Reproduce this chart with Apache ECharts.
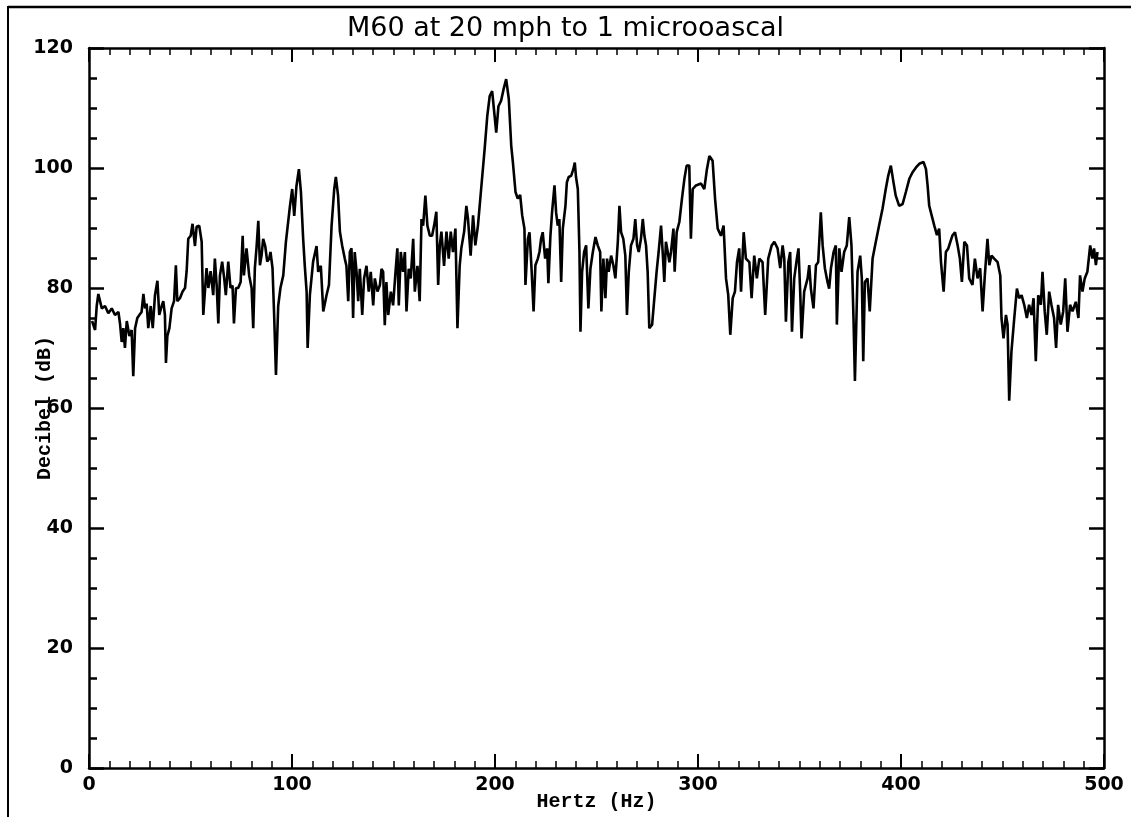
<!DOCTYPE html>
<html><head><meta charset="utf-8">
<script src="https://cdn.jsdelivr.net/npm/echarts@6/dist/echarts.min.js"></script>
<style>html,body{margin:0;padding:0;background:#fff}#c{width:1131px;height:817px}</style>
</head><body><div id="c"></div><script>
const titleText = 'M60 at 20 mph to 1 microoascal';
const xName = 'Hertz (Hz)';
const yName = 'Decibel (dB)';
const xTickValues = [0, 100, 200, 300, 400, 500];
const yTickValues = [0, 20, 40, 60, 80, 100, 120];

// frequency (Hz)
const hz = [
1.5,3.0,3.8,4.6,6.3,7.9,9.5,11.2,12.8,14.5,15.3,16.1,16.9,17.7,18.6,19.9,21.0,21.8,22.7,23.8,
24.8,25.9,26.8,27.6,28.4,29.2,30.4,31.4,32.5,33.7,34.6,35.8,36.6,37.4,37.9,38.6,39.6,40.7,41.9,42.8,
43.5,44.8,46.1,47.3,48.1,48.9,50.1,51.0,52.2,53.0,54.3,55.5,56.3,57.1,57.9,58.8,59.9,61.2,62.0,62.9,
63.7,64.5,65.6,66.6,67.4,68.6,69.7,70.7,71.4,72.4,73.5,74.7,75.7,76.3,77.6,78.9,80.1,80.9,81.7,82.5,
83.4,84.2,85.0,85.8,86.8,87.8,88.8,89.4,90.4,91.2,92.1,93.2,94.3,95.7,97.0,99.0,100.1,101.1,102.2,103.4,
104.4,105.5,106.3,107.2,107.7,108.8,110.4,112.1,112.9,114.2,115.4,117.0,118.2,119.5,120.8,121.6,122.7,123.6,124.7,126.0,
126.8,127.7,128.5,129.3,130.1,130.9,131.8,132.6,133.4,134.6,135.5,136.7,137.8,138.8,140.0,140.8,142.1,143.3,144.1,144.9,
145.7,146.5,147.4,148.7,149.8,151.0,151.9,152.6,153.6,154.7,155.6,156.4,157.5,158.5,159.7,160.5,161.8,162.9,163.8,164.6,
165.7,166.7,167.9,169.0,170.0,171.1,172.0,172.8,173.6,174.9,176.1,177.2,178.2,179.3,180.5,181.5,182.6,183.4,184.8,185.9,
186.7,188.0,189.2,190.3,191.6,193.3,194.9,196.2,197.4,198.6,199.8,200.6,201.7,203.0,204.2,205.5,206.8,208.0,208.8,210.1,
211.2,212.4,213.4,214.5,215.0,216.2,217.0,218.0,219.0,219.9,221.1,221.9,222.7,223.5,224.7,225.7,226.3,227.3,228.1,229.3,
230.1,230.9,231.7,232.6,233.4,234.7,235.4,236.3,237.5,238.6,239.3,239.9,240.8,241.6,242.1,242.9,243.9,244.9,246.0,247.0,
248.2,249.5,250.6,251.8,252.4,253.4,254.4,255.2,256.0,257.2,258.3,259.3,260.5,261.3,262.1,263.2,264.2,265.0,265.9,267.0,
268.2,269.1,270.0,270.8,271.9,272.8,273.6,274.4,275.2,276.0,277.4,278.5,279.6,280.6,281.8,282.6,283.4,284.2,285.1,285.9,
286.7,287.9,288.5,289.5,290.8,292.1,293.3,294.4,295.7,296.5,297.4,299.0,301.5,303.1,304.4,305.6,307.2,308.4,309.7,311.3,
312.6,313.8,314.9,315.9,317.1,318.2,319.2,320.3,321.2,322.5,323.6,325.3,326.4,327.7,329.0,330.2,331.8,333.1,334.6,336.3,
337.6,339.2,340.5,341.7,342.5,343.3,344.5,345.4,346.3,347.4,348.7,349.5,350.4,351.0,352.3,354.0,354.8,355.6,356.9,358.1,
359.2,360.5,361.4,362.5,363.8,364.6,365.5,366.8,367.9,368.4,369.6,370.7,372.0,373.3,374.5,375.6,376.6,377.3,378.6,379.9,
380.7,381.4,382.2,383.5,384.6,386.0,387.6,389.2,390.9,392.5,393.7,395.0,396.3,397.4,399.1,400.8,402.4,404.1,405.7,407.4,
409.0,411.1,412.3,413.1,413.9,415.1,416.4,417.7,418.8,419.7,421.0,422.1,423.3,424.3,425.4,426.6,427.9,429.0,430.0,431.2,
432.5,433.6,435.2,436.4,437.7,439.0,440.2,441.3,442.6,443.5,444.6,445.9,447.6,448.9,449.5,450.5,451.7,452.5,453.3,454.4,
455.8,457.1,458.2,459.4,460.7,462.0,463.1,464.3,465.3,466.4,467.6,468.9,469.7,470.8,471.8,473.0,474.1,475.4,476.4,477.4,
478.7,479.9,480.9,482.0,483.3,484.5,486.1,487.4,488.2,489.4,490.5,491.8,493.2,494.3,495.1,496.0,496.8
];
// level (dB)
const db = [
74.5,73,77,79,76.6,77,75.8,76.6,75.5,76,74,71,73.3,70,74.5,72,73,65.3,73.3,75,
75.5,76,79,76.6,77.4,73.3,77,73.3,78.8,81.2,75.5,77,77.8,75.5,67.5,72,73.3,76.6,77.8,83.8,
77.8,78.3,79.4,80,82.8,88.2,88.7,90.7,87,90.2,90.4,87.7,75.5,79.4,83.3,80,82.8,78.8,84.9,80.4,
74.1,82.1,84.4,81.6,78.8,84.4,80,80.4,74.1,80,80,81,88.7,82.1,86.6,82.1,80,73.3,83.3,86.6,
91.2,83.8,85.4,88.2,87,84.4,84.9,86,83.3,75.5,65.5,77,80,82.1,87.7,93.7,96.5,92,97,99.8,
96,88.2,83.7,79.4,70,78.8,84.4,87,82.7,83.7,76.1,78.8,80.5,90.4,96.5,98.5,95.4,89.4,87.1,84.9,
83.7,77.8,86,86.6,75,86,82.7,77.8,83.2,75.5,81.6,83.7,79.4,82.7,77.1,81.6,79.4,80.5,83.2,82.7,
73.8,81,75.5,79.4,77.1,82.7,86.6,77.1,86,82.7,86,76.1,83.2,81.6,88.2,79.4,83.7,77.8,91.5,90.4,
95.4,90.4,88.7,88.7,90.4,92.7,80.5,87.1,89.4,83.7,89.4,84.9,89.4,86,89.9,73.3,83.7,86.6,89.4,93.7,
91.5,85.4,92.1,87.1,90.4,97,103.2,108.7,112,112.8,108.7,105.9,110.3,111.2,113.1,114.8,111.5,103.7,101,96,
94.9,95.5,92.1,89.9,80.5,88.2,89.3,83.2,76.1,83.8,84.9,86,88.2,89.3,84.9,86.6,80.8,88.7,92.6,97.1,
92.6,90.4,91.5,81,89.9,93.7,97.6,98.5,98.7,99.8,100.9,98.5,96.5,86,72.7,82.7,86,87.1,76.6,83.2,
86,88.5,87.1,86,76.1,84.9,78.3,84.9,82.7,85.4,83.8,81.6,87.7,93.7,89.3,88.2,85.4,75.5,82.7,87.1,
88.2,91.5,87.1,86,88.2,91.5,88.7,87.1,82.7,73.3,73.9,78.3,82.7,86,90.4,86,81,87.7,86,84.3,
86,89.9,82.7,89.3,91,94.9,98.2,100.4,100.4,88.2,96.5,97.1,97.4,96.5,99.8,102,101.2,94.9,89.9,88.7,
90.4,81.6,78.8,72.2,78.3,79.4,84.3,86.6,79.4,89.3,84.9,84.3,78.3,85.4,81.6,84.9,84.3,75.5,84.9,87.1,
87.7,86.6,83.3,87.1,84.9,74.4,84.3,86,72.7,81.6,84.9,86.6,78.8,71.6,79.4,81.6,83.8,79.9,76.6,83.8,
84.3,92.6,87.1,83.3,81,79.9,83.3,86,87.1,73.9,86.6,82.7,86,87.1,91.8,87.1,75,64.5,82.7,85.4,
81.6,67.8,81,81.6,76.1,84.9,87.7,90.4,93.2,96.5,98.7,100.4,97.6,95.4,93.7,94,96,98.2,99.3,100.1,
100.7,101,99.8,97.1,93.7,92.1,90.4,88.8,89.9,84.3,79.4,86,86.6,87.7,88.8,89.3,87.1,84.9,81,87.7,
87.1,81.6,80.5,84.9,81.6,83.3,76.1,82.1,88.2,83.8,85.4,84.9,84.3,82.1,75,71.6,75.5,73.9,61.2,69.4,
75,79.9,78.3,78.8,77.2,75,77.2,75.5,78.3,67.8,78.8,77.2,82.7,76.1,72.2,79.4,77.2,75,70,77.2,
73.9,76.1,81.6,72.7,77.2,76.1,77.7,75,82.1,79.4,81.6,82.7,87.1,84.9,86.6,83.8,86
];

const points = hz.map((h, i) => [h, db[i]]);
const labelFont = { fontFamily: 'DejaVu Sans', fontWeight: 'bold', fontSize: 19, color: '#000' };
const nameFont = { fontFamily: 'Liberation Mono', fontWeight: 'bold', fontSize: 20, color: '#000' };
const axisLine = { show: true, onZero: false, lineStyle: { color: '#000', width: 2.5 } };

const chart = echarts.init(document.getElementById('c'), null, { renderer: 'canvas' });
chart.setOption({
  animation: false,
  backgroundColor: '#fff',
  title: {
    text: titleText, left: 'center', top: 10,
    textStyle: { fontFamily: 'DejaVu Sans', fontWeight: 'normal', fontSize: 27, color: '#000' }
  },
  grid: { left: 89, right: 27, top: 48, bottom: 45, containLabel: false },
  xAxis: [{
    type: 'value', min: 0, max: 500, interval: 100, position: 'bottom',
    name: xName, nameLocation: 'middle', nameGap: 24, nameMoveOverlap: false, nameTextStyle: nameFont,
    axisLine: axisLine,
    axisTick: { show: true, inside: true, length: 14, lineStyle: { color: '#000', width: 2 } },
    minorTick: { show: true, splitNumber: 10, length: 7, lineStyle: { color: '#000', width: 1.5 } },
    axisLabel: Object.assign({ margin: 8, formatter: v => xTickValues.includes(v) ? String(v) : '' }, labelFont),
    splitLine: { show: false }
  }, {
    type: 'value', min: 0, max: 500, interval: 100, position: 'top',
    axisLine: axisLine,
    axisTick: { show: true, inside: true, length: 14, lineStyle: { color: '#000', width: 2 } },
    minorTick: { show: true, splitNumber: 10, length: 7, lineStyle: { color: '#000', width: 1.5 } },
    axisLabel: { show: false }, splitLine: { show: false }
  }],
  yAxis: [{
    type: 'value', min: 0, max: 120, interval: 20, position: 'left',
    name: yName, nameLocation: 'middle', nameGap: 34, nameRotate: 90, nameMoveOverlap: false, nameTextStyle: nameFont,
    axisLine: axisLine,
    axisTick: { show: true, inside: true, length: 15, lineStyle: { color: '#000', width: 2.5 } },
    minorTick: { show: true, splitNumber: 4, length: 8, lineStyle: { color: '#000', width: 2.5 } },
    axisLabel: Object.assign({ margin: 16, formatter: v => yTickValues.includes(v) ? String(v) : '' }, labelFont),
    splitLine: { show: false }
  }, {
    type: 'value', min: 0, max: 120, interval: 20, position: 'right',
    axisLine: axisLine,
    axisTick: { show: true, inside: true, length: 15, lineStyle: { color: '#000', width: 2.5 } },
    minorTick: { show: true, splitNumber: 4, length: 8, lineStyle: { color: '#000', width: 2.5 } },
    axisLabel: { show: false }, splitLine: { show: false }
  }],
  graphic: [
    { type: 'line', shape: { x1: 8, y1: 6, x2: 8, y2: 817 }, style: { stroke: '#000', lineWidth: 2 } },
    { type: 'line', shape: { x1: 8, y1: 7, x2: 1131, y2: 7 }, style: { stroke: '#000', lineWidth: 2.5 } }
  ],
  series: [{
    type: 'line', data: points, xAxisIndex: 0, yAxisIndex: 0,
    showSymbol: false, symbol: 'none', smooth: false,
    lineStyle: { color: '#000', width: 2.6 }
  }]
});
</script></body></html>
